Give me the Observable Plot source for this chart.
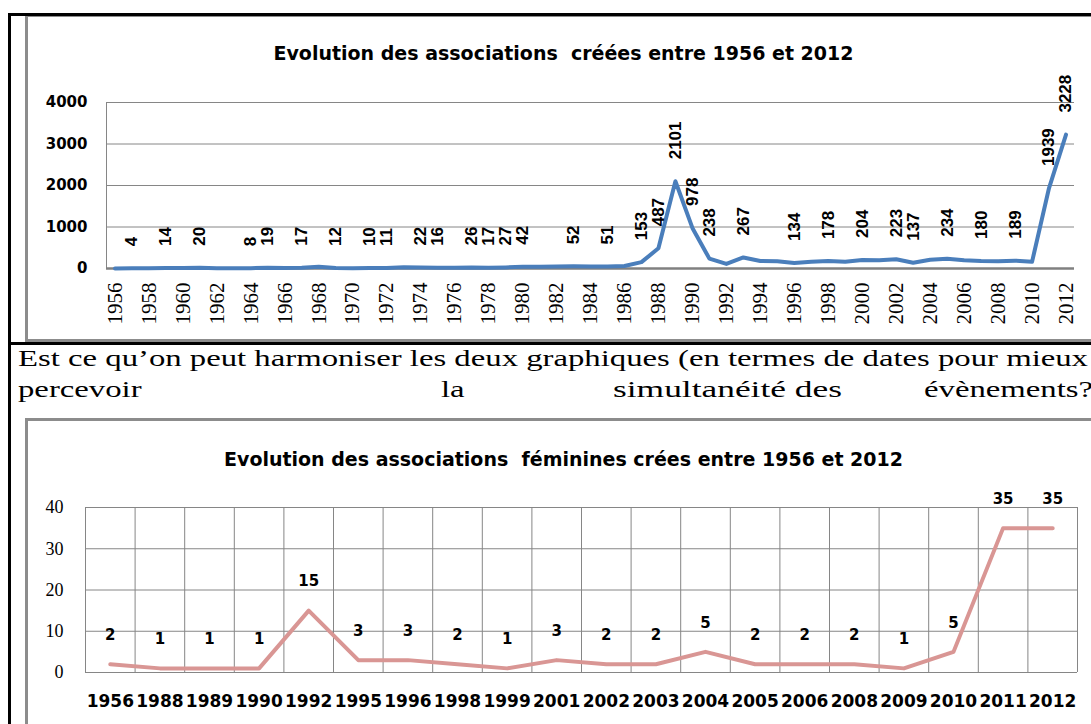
<!DOCTYPE html>
<html><head><meta charset="utf-8">
<script src="https://cdn.jsdelivr.net/npm/d3@7"></script>
<script src="https://cdn.jsdelivr.net/npm/@observablehq/plot@0.6"></script>
<style>
body{margin:0;background:#fff;}
#page{position:relative;width:1091px;height:724px;overflow:hidden;background:#fff;}
.abs{position:absolute;}
.title{position:absolute;left:0;width:1127px;text-align:center;font-family:"DejaVu Sans";font-weight:bold;font-size:19px;line-height:22px;color:#000;white-space:pre;}
#c1,#c2{position:absolute;left:28px;}
#c1{top:60px;} #c2{top:475px;}
#para{position:absolute;left:0;top:340px;}
</style></head><body>
<div id="page">
  <!-- document table borders -->
  <div class="abs" style="left:8px;top:13px;width:3px;height:711px;background:#000"></div>
  <div class="abs" style="left:8px;top:13px;width:1083px;height:3px;background:#000"></div>
  <div class="abs" style="left:11px;top:342px;width:1080px;height:3px;background:#000"></div>
  <!-- chart 1 frame -->
  <div class="abs" style="left:25px;top:16px;width:3px;height:324px;background:#8c8c8c"></div>
  <div class="abs" style="left:25px;top:16px;width:1066px;height:1px;background:#8c8c8c"></div>
  <div class="abs" style="left:25px;top:339px;width:1066px;height:3px;background:#8c8c8c"></div>
  <!-- chart 2 frame -->
  <div class="abs" style="left:25px;top:418px;width:1066px;height:3px;background:#8c8c8c"></div>
  <div class="abs" style="left:25px;top:418px;width:3px;height:306px;background:#8c8c8c"></div>

  <div class="title" style="top:42px">Evolution des associations  créées entre 1956 et 2012</div>
  <div id="c1"></div>

  <svg id="para" width="1091" height="80">
    <text id="l1" x="18" y="26" font-family="Liberation Serif" font-size="24">Est ce qu’on peut harmoniser les deux graphiques (en termes de dates pour mieux</text>
    <text class="w2" x="18" y="57" font-family="Liberation Serif" font-size="24">percevoir</text>
    <text class="w2" x="441" y="57" font-family="Liberation Serif" font-size="24">la</text>
    <text class="w2" x="613" y="57" font-family="Liberation Serif" font-size="24" data-w="229">simultanéité des</text>
    <text class="w2" x="924" y="57" font-family="Liberation Serif" font-size="24">évènements?</text>
  </svg>

  <div class="title" style="top:448px">Evolution des associations  féminines crées entre 1956 et 2012</div>
  <div id="c2"></div>
</div>
<script>
// ---------- Chart 1 data ----------
const years1 = [1956,1957,1958,1959,1960,1961,1962,1963,1964,1965,1966,1967,1968,1969,1970,1971,1972,1973,1974,1975,1976,1977,1978,1979,1980,1981,1982,1983,1984,1985,1986,1987,1988,1989,1990,1991,1992,1993,1994,1995,1996,1997,1998,1999,2000,2001,2002,2003,2004,2005,2006,2007,2008,2009,2010,2011,2012];
const counts1 = [2,4,6,14,10,20,7,5,8,19,12,17,45,12,9,10,11,30,22,16,20,26,17,27,42,45,48,52,50,51,60,153,487,2101,978,238,110,267,180,175,134,160,178,165,204,200,223,137,210,234,200,180,175,189,160,1939,3228];
const labelYears1 = [1957,1959,1961,1964,1965,1967,1969,1971,1972,1974,1975,1977,1978,1979,1980,1983,1985,1987,1988,1989,1990,1991,1993,1996,1998,2000,2002,2003,2005,2007,2009,2011,2012];
const xTicks1 = [1956,1958,1960,1962,1964,1966,1968,1970,1972,1974,1976,1978,1980,1982,1984,1986,1988,1990,1992,1994,1996,1998,2000,2002,2004,2006,2008,2010,2012];
const yTicks1 = [0,1000,2000,3000,4000];

// ---------- Chart 2 data ----------
const years2 = ["1956","1988","1989","1990","1992","1995","1996","1998","1999","2001","2002","2003","2004","2005","2006","2008","2009","2010","2011","2012"];
const counts2 = [2,1,1,1,15,3,3,2,1,3,2,2,5,2,2,2,1,5,35,35];
const yTicks2 = [0,10,20,30,40];

const data1 = years1.map((y, i) => ({year: y, n: counts1[i]}));
const lab1 = data1.filter(d => labelYears1.includes(d.year));

const chart1 = Plot.plot({
  width: 1063, height: 275,
  marginLeft: 78, marginRight: 17, marginTop: 42, marginBottom: 67,
  style: {background: "transparent", overflow: "visible"},
  x: {domain: [years1[0] - 0.5, years1[years1.length - 1] + 0.5]},
  y: {domain: [0, 4000]},
  marks: [
    Plot.ruleY(yTicks1.filter(v => v > 0), {stroke: "#868686", strokeWidth: 1}),
    Plot.ruleX([years1[0] - 0.5], {y1: 0, y2: 4000, stroke: "#868686", strokeWidth: 1}),
    Plot.ruleY([0], {stroke: "#808080", strokeWidth: 2.5}),
    Plot.line(data1, {x: "year", y: "n", stroke: "#4a7ebb", strokeWidth: 4}),
    Plot.text(lab1, {x: "year", y: "n", text: d => String(d.n), rotate: -90, textAnchor: "start", dy: -22,
      fontSize: 17, fontWeight: "bold", fontFamily: "Liberation Sans", fill: "#000"}),
    Plot.axisX({ticks: xTicks1, tickFormat: d => String(d), tickRotate: -90, tickSize: 0, tickPadding: 14,
      fontSize: 21, fontFamily: "Liberation Serif", fill: "#000", label: null}),
    Plot.axisY({ticks: yTicks1, tickFormat: d => String(d), tickSize: 0, tickPadding: 19,
      fontSize: 15, fontWeight: "bold", fontFamily: "DejaVu Sans", fill: "#000", label: null})
  ]
});
document.getElementById("c1").appendChild(chart1);

const data2 = years2.map((y, i) => ({i, year: y, n: counts2[i]}));
const chart2 = Plot.plot({
  width: 1063, height: 249,
  marginLeft: 57, marginRight: 14, marginTop: 32, marginBottom: 52,
  style: {background: "transparent", overflow: "visible"},
  x: {domain: [-0.5, years2.length - 0.5]},
  y: {domain: [0, 40]},
  marks: [
    Plot.ruleY(yTicks2, {stroke: "#868686", strokeWidth: 1}),
    Plot.ruleX(d3.range(years2.length + 1), {x: i => i - 0.5, y1: 0, y2: 40, stroke: "#868686", strokeWidth: 1}),
    Plot.line(data2, {x: "i", y: "n", stroke: "#d99694", strokeWidth: 4}),
    Plot.text(data2, {x: "i", y: "n", text: d => String(d.n), dy: -29,
      fontSize: 15, fontWeight: "bold", fontFamily: "DejaVu Sans", fill: "#000"}),
    Plot.axisX({ticks: d3.range(years2.length), tickFormat: i => years2[i], tickSize: 0, tickPadding: 22,
      fontSize: 17, fontWeight: "bold", fontFamily: "DejaVu Sans", fill: "#000", label: null}),
    Plot.axisY({ticks: yTicks2, tickFormat: d => String(d), tickSize: 0, tickPadding: 22,
      fontSize: 18, fontFamily: "Liberation Serif", fill: "#000", label: null})
  ]
});
document.getElementById("c2").appendChild(chart2);

// stretch paragraph text horizontally like the scanned document
const l1 = document.getElementById("l1");
const nat1 = l1.getComputedTextLength();
const factor = 1070 / nat1;
l1.setAttribute("textLength", 1070);
l1.setAttribute("lengthAdjust", "spacingAndGlyphs");
document.querySelectorAll(".w2").forEach(t => {
  const n = t.getComputedTextLength();
  const w = t.dataset.w ? +t.dataset.w : n * factor;
  t.setAttribute("textLength", w.toFixed(1));
  t.setAttribute("lengthAdjust", "spacingAndGlyphs");
});
</script>
</body></html>
